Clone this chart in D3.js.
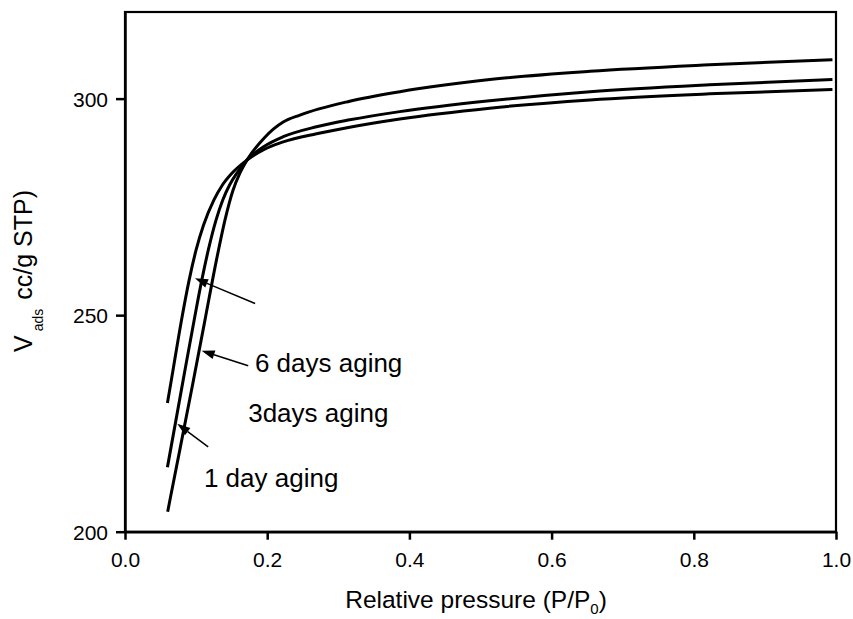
<!DOCTYPE html>
<html><head><meta charset="utf-8">
<script src="https://cdn.jsdelivr.net/npm/d3@7"></script>
<style>body{margin:0;background:#fff}svg{display:block}text{font-family:"Liberation Sans",Arial,sans-serif;fill:#000}</style>
</head><body><svg id="c" width="853" height="619"></svg>
<script>
// Relative pressure (P/P0) values and adsorbed volume for each sample
const seriesA_x = [0.0600,0.0632,0.0949,0.1124,0.1286,0.1405,0.1518,0.1616,0.1715,0.1968,0.2225,0.2460,0.3160,0.3865,0.5130,0.6540,0.8220,0.9950];
const seriesA_y = [204.6,207.3,233.8,248.8,262.7,271.9,278.8,282.8,285.8,291.1,294.6,296.2,299.4,301.6,304.4,306.3,307.8,309.0];
const seriesB_x = [0.0597,0.0818,0.0973,0.1080,0.1171,0.1279,0.1375,0.1469,0.1570,0.1715,0.1950,0.2225,0.2694,0.3160,0.3865,0.5130,0.6540,0.8220,0.9950];
const seriesB_y = [214.9,235.0,248.9,258.1,265.0,271.9,276.6,280.0,282.7,285.8,288.9,291.2,293.5,295.1,297.0,299.5,301.6,303.2,304.4];
const seriesC_x = [0.0597,0.0652,0.0795,0.0902,0.0999,0.1105,0.1251,0.1368,0.1500,0.1715,0.1950,0.2225,0.2694,0.3160,0.3865,0.5130,0.6540,0.8220,0.9950];
const seriesC_y = [229.7,235.0,248.9,258.1,265.0,270.8,276.6,280.0,282.7,285.8,288.2,290.0,291.9,293.4,295.3,297.8,299.7,301.1,302.1];
const xTicks = [0.0,0.2,0.4,0.6,0.8,1.0];
const yTicks = [200,250,300];
const labels = ["6 days aging","3days aging","1 day aging"];
const labelPos = [[0.1827,236.9],[0.1733,225.4],[0.111,210.4]];
const arrows = [[[0.183,252.7],[0.0984,258.5]],[[0.1733,238.3],[0.1078,241.8]],[[0.117,219.6],[0.0735,224.9]]];

const W=853,H=619,m={l:125,t:12,r:17,b:87.3};
const svg=d3.select("#c");
const x=d3.scaleLinear().domain([0,1]).range([m.l,W-m.r]);
const y=d3.scaleLinear().domain([200,320]).range([H-m.b,m.t]);

// frame
svg.append("rect").attr("x",m.l).attr("y",m.t).attr("width",W-m.r-m.l).attr("height",H-m.b-m.t)
  .attr("fill","none").attr("stroke","#000").attr("stroke-width",2.2);

const xa=svg.append("g").attr("transform",`translate(0,${H-m.b})`)
  .call(d3.axisBottom(x).tickValues(xTicks).tickFormat(d3.format(".1f")).tickSize(8).tickSizeOuter(0));
const ya=svg.append("g").attr("transform",`translate(${m.l},0)`)
  .call(d3.axisLeft(y).tickValues(yTicks).tickFormat(d3.format("d")).tickSize(9).tickSizeOuter(0));
[xa,ya].forEach(g=>{g.select(".domain").attr("stroke-width",2.5);g.selectAll(".tick line").attr("stroke-width",2.5);
  g.selectAll("text").attr("font-size",21).attr("font-family","Liberation Sans, Arial, sans-serif").attr("fill","#000");});
xa.selectAll("text").attr("dy",null).attr("y",35);
ya.selectAll("text").attr("x",-17).attr("dy","0.36em");

const line=d3.line().x(d=>x(d[0])).y(d=>y(d[1])).curve(d3.curveMonotoneX);
[[seriesA_x,seriesA_y],[seriesB_x,seriesB_y],[seriesC_x,seriesC_y]].forEach(([xs,ys])=>{
  svg.append("path").datum(xs.map((v,i)=>[v,ys[i]])).attr("d",line)
    .attr("fill","none").attr("stroke","#000").attr("stroke-width",3).attr("stroke-linejoin","round");
});

// arrows
arrows.forEach(([t,h])=>{
  const x1=x(t[0]),y1=y(t[1]),x2=x(h[0]),y2=y(h[1]);
  const a=Math.atan2(y2-y1,x2-x1),L=13,w=4.5;
  const bx=x2-L*Math.cos(a),by=y2-L*Math.sin(a);
  svg.append("line").attr("x1",x1).attr("y1",y1).attr("x2",bx).attr("y2",by).attr("stroke","#000").attr("stroke-width",1.5);
  const p=[[x2,y2],[bx+w*Math.sin(a),by-w*Math.cos(a)],[bx-w*Math.sin(a),by+w*Math.cos(a)]];
  svg.append("polygon").attr("points",p.map(q=>q.join(",")).join(" ")).attr("fill","#000");
});
labels.forEach((s,i)=>svg.append("text").attr("x",x(labelPos[i][0])).attr("y",y(labelPos[i][1])).attr("font-size",26).text(s));

// axis titles
const xt=svg.append("text").attr("x",476).attr("y",608).attr("text-anchor","middle").attr("font-size",24.5);
xt.append("tspan").text("Relative pressure (P/P");
xt.append("tspan").attr("font-size",15).attr("dy",6).text("0");
xt.append("tspan").attr("dy",-6).text(")");
const yt=svg.append("text").attr("transform","translate(32,352) rotate(-90)").attr("font-size",25);
yt.append("tspan").text("V");
yt.append("tspan").attr("font-size",14).attr("dy",11).attr("dx",4).text("ads");
yt.append("tspan").attr("dy",-11).attr("dx",2).text(" cc/g STP)");
</script></body></html>
